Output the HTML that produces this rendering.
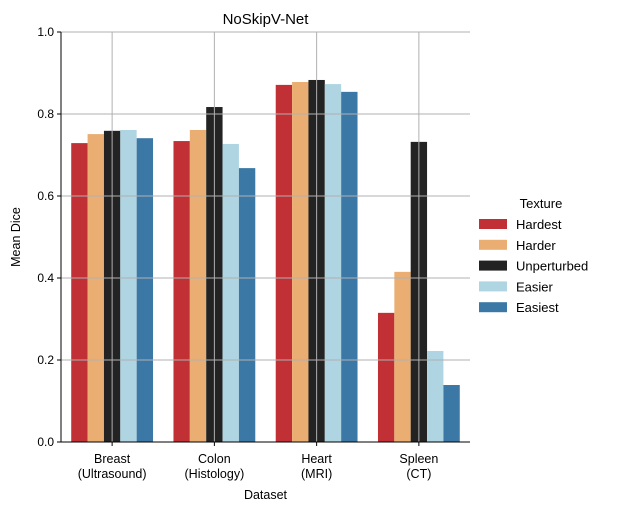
<!DOCTYPE html>
<html><head><meta charset="utf-8"><style>
body{margin:0;background:#fff;}
svg{font-family:"Liberation Sans","DejaVu Sans",sans-serif;}
</style></head><body>
<svg id="chart" width="617" height="512" xmlns="http://www.w3.org/2000/svg"></svg>
<script>
const categories=["Breast\n(Ultrasound)","Colon\n(Histology)","Heart\n(MRI)","Spleen\n(CT)"];
const seriesNames=["Hardest","Harder","Unperturbed","Easier","Easiest"];
const hardest=[0.729,0.734,0.871,0.315];
const harder=[0.751,0.761,0.878,0.415];
const unperturbed=[0.759,0.817,0.883,0.732];
const easier=[0.761,0.727,0.873,0.222];
const easiest=[0.741,0.668,0.854,0.139];
const yTicks=[0,0.2,0.4,0.6,0.8,1.0];
const yTickLabels=["0.0","0.2","0.4","0.6","0.8","1.0"];
const series=[hardest,harder,unperturbed,easier,easiest];
const colors=["#c03035","#ebae72","#232323","#b0d5e2","#3b78a6"];
const NS="http://www.w3.org/2000/svg";
const svg=document.getElementById('chart');
const L=61,R=470,T=32,B=442;
const y=v=>B-(v-0)/(1-0)*(B-T);
const band=(R-L)/categories.length;
const x=i=>L+band*(i+0.5);
function el(t,a){const e=document.createElementNS(NS,t);for(const k in a)e.setAttribute(k,a[k]);svg.appendChild(e);return e;}
const bw=band*0.8/5;
series.forEach((s,si)=>s.forEach((v,ci)=>{
 const r=el('rect',{x:x(ci)-band*0.4+si*bw,y:y(v),width:bw,height:B-y(v),fill:colors[si]});
 
 
}));
yTicks.forEach((t,i)=>{
 const g=el('line',{x1:L,x2:R,y1:y(t),y2:y(t),stroke:'#b0b0b0','stroke-width':1});
 
 
 el('line',{x1:L-4,x2:L,y1:y(t),y2:y(t),stroke:'#000'});
 const tx=el('text',{x:L-7,y:y(t)+4,'text-anchor':'end','font-size':12});
 tx.textContent=yTickLabels[i];
 
 
});
categories.forEach((c,i)=>{
 const g=el('line',{x1:x(i),x2:x(i),y1:T,y2:B,stroke:'#b0b0b0','stroke-width':1});
 
 
 el('line',{x1:x(i),x2:x(i),y1:B,y2:B+4,stroke:'#000'});
 c.split('\n').forEach((ln,j)=>{
  const tx=el('text',{x:x(i),y:B+21+j*15,'text-anchor':'middle','font-size':12.5});
  tx.textContent=ln;
  
  
 });
});
el('line',{x1:L,x2:L,y1:T,y2:B,stroke:'#000'});
el('line',{x1:L,x2:R,y1:B,y2:B,stroke:'#000'});
let t=el('text',{x:(L+R)/2,y:24,'text-anchor':'middle','font-size':15});t.textContent='NoSkipV-Net';

t=el('text',{x:(L+R)/2,y:499,'text-anchor':'middle','font-size':12.5});t.textContent='Dataset';

t=el('text',{x:20,y:(T+B)/2,'text-anchor':'middle','font-size':12.5,transform:`rotate(-90 20 ${(T+B)/2})`});t.textContent='Mean Dice';

t=el('text',{x:541,y:208,'text-anchor':'middle','font-size':13});t.textContent='Texture';

seriesNames.forEach((n,i)=>{
 const yy=224+i*20.8;
 const r=el('rect',{x:479,y:yy-5,width:28,height:10,fill:colors[i]});
 
 const tx=el('text',{x:516,y:yy+5,'font-size':13});tx.textContent=n;
 
});
</script>
</body></html>
